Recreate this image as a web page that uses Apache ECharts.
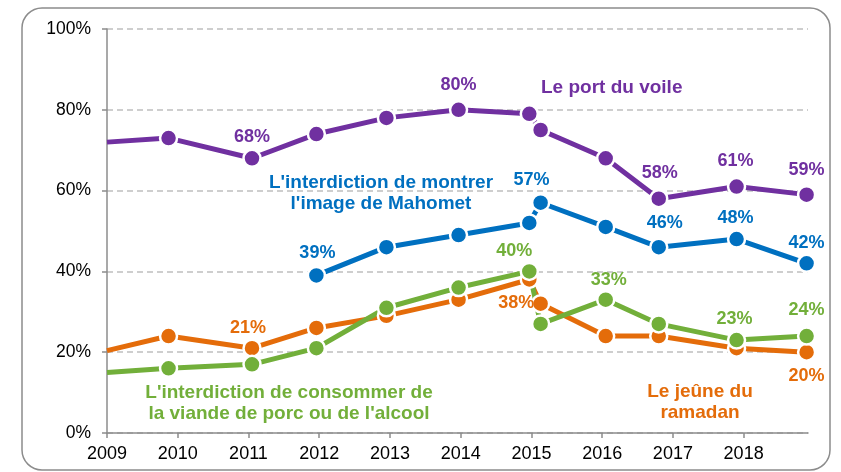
<!DOCTYPE html>
<html lang="fr">
<head>
  <meta charset="utf-8">
  <title>Pratiques religieuses</title>
  <style>
    * { margin: 0; padding: 0; }
    #chart-container { width: 841px; height: 472px; background: #fff; }
  </style>
</head>
<body>
  <div id="chart-container"></div>
  <script src="https://cdn.jsdelivr.net/npm/echarts@6/dist/echarts.min.js"></script>
  <script>
    // survey dates (fractional years, as placed on the axis)
    const surveyDates = [2009.0, 2009.87, 2011.05, 2011.96, 2012.95, 2013.97, 2014.97, 2015.13, 2016.05, 2016.8, 2017.9, 2018.89];
    const yearTicks = [2009, 2010, 2011, 2012, 2013, 2014, 2015, 2016, 2017, 2018];

    const voile = [72, 73, 68, 74, 78, 80, 79, 75, 68, 58, 61, 59];
    const mahomet = [null, null, null, 39, 46, 49, 52, 57, 51, 46, 48, 42];
    const ramadan = [20.4, 24, 21, 26, 29, 33, 38, 32, 24, 24, 21, 20];
    const porcAlcool = [15, 16, 17, 21, 31, 36, 40, 27, 33, 27, 23, 24];

    // which points carry a value label, with the label offset from the point
    const voileLabels = { 2: [0, -21], 5: [0, -25], 9: [1, -26], 10: [-1, -26], 11: [0, -25] };
    const mahometLabels = { 3: [1, -22], 7: [-9, -23], 9: [6, -24], 10: [-1, -21], 11: [0, -20] };
    const ramadanLabels = { 2: [-4, -20], 6: [-13, 24], 11: [0, 24] };
    const porcLabels = { 6: [-15, -20], 8: [3, -20], 10: [-2, -21], 11: [0, -26] };

    var dom = document.getElementById('chart-container');
    var myChart = echarts.init(dom, null, { renderer: 'canvas' });

    function buildData(values, labels, color) {
      return values.map(function (v, i) {
        if (v === null) return [surveyDates[i], null];
        var item = { value: [surveyDates[i], v] };
        if (i === 0) item.symbol = 'none';
        if (labels[i]) {
          item.label = {
            show: true,
            position: 'inside',
            offset: labels[i],
            formatter: Math.round(v) + '%',
            color: color,
            fontWeight: 'bold',
            fontSize: 18,
            fontFamily: 'Liberation Sans, Arial, sans-serif'
          };
        }
        return item;
      });
    }

    function lineSeries(name, values, labels, color) {
      return {
        name: name,
        type: 'line',
        data: buildData(values, labels, color),
        symbol: 'circle',
        symbolSize: 17,
        connectNulls: false,
        lineStyle: { width: 5, color: color },
        itemStyle: { color: color, borderColor: '#fff', borderWidth: 2.5 },
        label: { show: false },
        emphasis: { disabled: true }
      };
    }

    const purple = '#7030A0';
    const blue = '#0070C0';
    const orange = '#E46C0A';
    const green = '#72AF3A';
    const nameFont = 'bold 19px "Liberation Sans", Arial, sans-serif';

    var option = {
      animation: false,
      grid: { left: 107, right: 33, top: 29, bottom: 39 },
      xAxis: {
        type: 'value',
        min: 2009,
        max: 2018.91,
        axisLine: { lineStyle: { color: '#8c8c8c', width: 1.5 } },
        axisTick: { show: true, customValues: yearTicks, length: 5, lineStyle: { color: '#8c8c8c', width: 1.5 } },
        axisLabel: {
          customValues: yearTicks,
          color: '#000',
          fontSize: 18,
          fontFamily: 'Liberation Sans, Arial, sans-serif',
          margin: 12,
          formatter: function (v) { return String(v); }
        },
        splitLine: { show: false }
      },
      yAxis: {
        type: 'value',
        min: 0,
        max: 100,
        interval: 20,
        axisLine: { show: true, lineStyle: { color: '#8c8c8c', width: 1.5 } },
        axisTick: { show: true, length: 5, lineStyle: { color: '#8c8c8c', width: 1.5 } },
        axisLabel: {
          color: '#000',
          fontSize: 17.5,
          fontFamily: 'Liberation Sans, Arial, sans-serif',
          margin: 16,
          formatter: '{value}%'
        },
        splitLine: { lineStyle: { color: '#bfbfbf', type: [6, 4], width: 1.5 } }
      },
      series: [
        lineSeries('Le port du voile', voile, voileLabels, purple),
        lineSeries("L'interdiction de montrer l'image de Mahomet", mahomet, mahometLabels, blue),
        lineSeries('Le jeûne du ramadan', ramadan, ramadanLabels, orange),
        lineSeries("L'interdiction de consommer de la viande de porc ou de l'alcool", porcAlcool, porcLabels, green)
      ],
      graphic: [
        {
          type: 'rect', silent: true, z: -1,
          shape: { x: 22, y: 8, width: 808, height: 462, r: 20 },
          style: { fill: 'none', stroke: '#8c8c8c', lineWidth: 1.5 }
        },
        {
          type: 'text', x: 541, y: 88,
          style: { text: 'Le port du voile', font: nameFont, fill: purple, verticalAlign: 'middle' }
        },
        {
          type: 'text', x: 381, y: 193,
          style: { text: "L'interdiction de montrer\nl'image de Mahomet", font: nameFont, fill: blue, align: 'center', verticalAlign: 'middle', lineHeight: 21 }
        },
        {
          type: 'text', x: 289, y: 403.5,
          style: { text: "L'interdiction de consommer de\nla viande de porc ou de l'alcool", font: nameFont, fill: green, align: 'center', verticalAlign: 'middle', lineHeight: 21 }
        },
        {
          type: 'text', x: 700, y: 402.5,
          style: { text: 'Le jeûne du\nramadan', font: nameFont, fill: orange, align: 'center', verticalAlign: 'middle', lineHeight: 21 }
        }
      ]
    };

    myChart.setOption(option);
    window.addEventListener('resize', myChart.resize);
  </script>
</body>
</html>
